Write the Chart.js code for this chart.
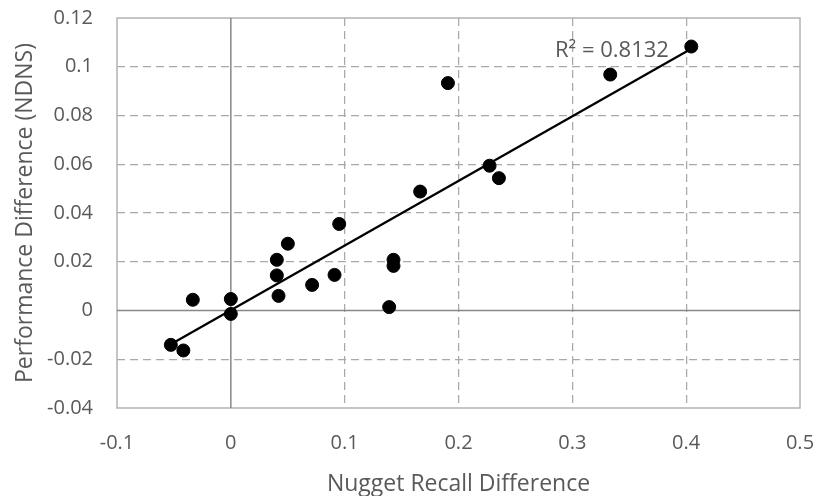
<!DOCTYPE html>
<html>
<head>
<meta charset="utf-8">
<script src="https://cdn.jsdelivr.net/npm/chart.js@4/dist/chart.umd.min.js"></script>
<style>
  html, body { margin: 0; padding: 0; background: #ffffff; }
  #wrap { width: 825px; height: 496px; }
</style>
</head>
<body>
<div id="wrap"><canvas id="chart"></canvas></div>
<script>
// values
var recallDiff = [-0.0527, -0.0417, -0.0334, 0.0, 0.0, 0.0404, 0.0404, 0.0419, 0.0501, 0.0714, 0.0911,
                  0.0952, 0.1429, 0.1429, 0.1391, 0.1663, 0.1907, 0.2273, 0.2355, 0.3333, 0.4045];
var ndnsDiff = [-0.0141, -0.0164, 0.0044, 0.0047, -0.0014, 0.0208, 0.0144, 0.0060, 0.0274, 0.0105, 0.0146,
                0.0355, 0.0208, 0.0183, 0.0014, 0.0488, 0.0933, 0.0594, 0.0543, 0.0968, 0.1083];
var xTickLabels = ['-0.1', '0', '0.1', '0.2', '0.3', '0.4', '0.5'];
var yTickLabels = ['-0.04', '-0.02', '0', '0.02', '0.04', '0.06', '0.08', '0.1', '0.12'];
var r2Label = 'R\u00b2 = 0.8132';
var r2Pos = [0.3348, 0.1064];

var TEXT = '#595959';
var FONT = '"Open Sans", "DejaVu Sans", sans-serif';

// linear trendline (least squares), drawn between the smallest and largest x
function trend(xs, ys) {
    var n = xs.length, sx = 0, sy = 0, sxx = 0, sxy = 0;
    for (var i = 0; i < n; i++) {
        sx += xs[i]; sy += ys[i]; sxx += xs[i] * xs[i]; sxy += xs[i] * ys[i];
    }
    var b = (n * sxy - sx * sy) / (n * sxx - sx * sx);
    var a = (sy - b * sx) / n;
    var lo = Math.min.apply(null, xs), hi = Math.max.apply(null, xs);
    return [{x: lo, y: a + b * lo}, {x: hi, y: a + b * hi}];
}

var points = recallDiff.map(function (v, i) { return {x: v, y: ndnsDiff[i]}; });

function gridColor(min, max) {
    return function (ctx) {
        var v = ctx.tick ? ctx.tick.value : null;
        if (v === null) return 'rgba(0,0,0,0)';
        if (Math.abs(v) < 1e-9 || Math.abs(v - min) < 1e-9 || Math.abs(v - max) < 1e-9) return 'rgba(0,0,0,0)';
        return '#a9a9a9';
    };
}

// no extra room for overflowing tick labels, the layout padding decides the plot area
function noOverflow(size, key) {
    return function (s) {
        s[key] = size;
        s.paddingLeft = 0; s.paddingRight = 0; s.paddingTop = 0; s.paddingBottom = 0;
    };
}

var frame = {
    id: 'frame',
    beforeDatasetsDraw: function (chart) {
        var c = chart.ctx, a = chart.chartArea;
        var x0 = chart.scales.x.getPixelForValue(0);
        var y0 = chart.scales.y.getPixelForValue(0);
        c.save();
        c.lineWidth = 1.5;
        c.strokeStyle = '#b3b3b3';
        c.strokeRect(a.left, a.top, a.right - a.left, a.bottom - a.top);
        c.strokeStyle = '#878787';
        c.beginPath();
        c.moveTo(x0, a.top); c.lineTo(x0, a.bottom);
        c.moveTo(a.left, y0); c.lineTo(a.right, y0);
        c.stroke();
        c.restore();
    },
    afterDatasetsDraw: function (chart) {
        var c = chart.ctx;
        c.save();
        c.font = '22px ' + FONT;
        c.fillStyle = TEXT;
        c.textAlign = 'center';
        c.textBaseline = 'middle';
        c.fillText(r2Label, chart.scales.x.getPixelForValue(r2Pos[0]), chart.scales.y.getPixelForValue(r2Pos[1]));
        c.restore();
    }
};

new Chart(document.getElementById('chart'), {
    type: 'scatter',
    data: {
        datasets: [{
            label: 'NDNS',
            data: points,
            backgroundColor: '#000000',
            borderColor: '#000000',
            pointRadius: 6.5,
            pointHoverRadius: 6.5,
            order: 0
        }, {
            label: 'Linear',
            data: trend(recallDiff, ndnsDiff),
            showLine: true,
            borderColor: '#000000',
            borderWidth: 2.25,
            pointRadius: 0,
            fill: false,
            order: 1
        }]
    },
    options: {
        responsive: true,
        maintainAspectRatio: false,
        animation: false,
        events: [],
        layout: {padding: {top: 18, right: 25, left: 0, bottom: 0}},
        plugins: {legend: {display: false}, tooltip: {enabled: false}},
        scales: {
            x: {
                type: 'linear',
                min: -0.1,
                max: 0.5,
                afterFit: noOverflow(88, 'height'),
                ticks: {
                    stepSize: 0.1,
                    padding: 23,
                    color: TEXT,
                    font: {family: FONT, size: 20},
                    maxRotation: 0,
                    callback: function (v, i) { return xTickLabels[i]; }
                },
                grid: {drawTicks: false, lineWidth: 1.25, color: gridColor(-0.1, 0.5)},
                border: {display: false, dash: [8, 5]},
                title: {
                    display: true,
                    text: 'Nugget Recall Difference',
                    color: TEXT,
                    font: {family: FONT, size: 23, lineHeight: 1},
                    padding: {top: 0, bottom: 0}
                }
            },
            y: {
                type: 'linear',
                min: -0.04,
                max: 0.12,
                afterFit: noOverflow(117, 'width'),
                ticks: {
                    stepSize: 0.02,
                    padding: 24,
                    color: TEXT,
                    font: {family: FONT, size: 20},
                    callback: function (v, i) { return yTickLabels[i]; }
                },
                grid: {drawTicks: false, lineWidth: 1.25, color: gridColor(-0.04, 0.12)},
                border: {display: false, dash: [8, 5]},
                title: {
                    display: true,
                    text: 'Performance Difference (NDNS)',
                    color: TEXT,
                    font: {family: FONT, size: 23, lineHeight: 1},
                    padding: {top: 14, bottom: 0}
                }
            }
        }
    },
    plugins: [frame]
});
</script>
</body>
</html>
